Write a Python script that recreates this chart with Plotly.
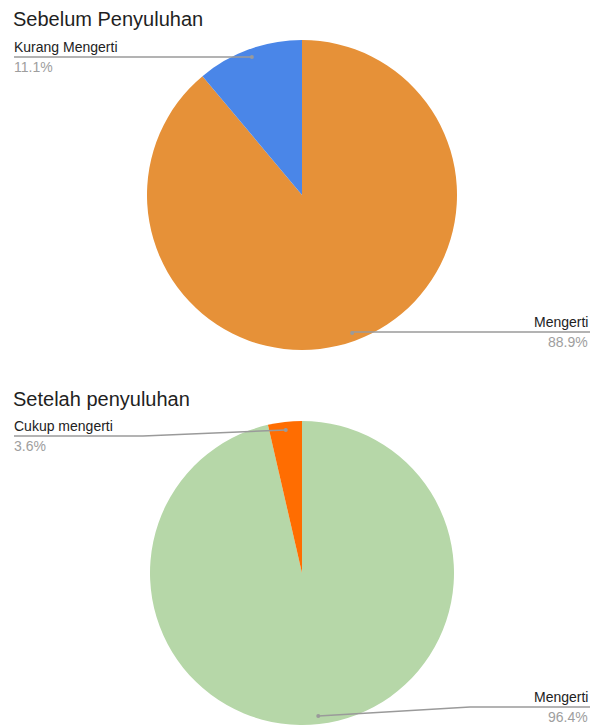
import math
import plotly.graph_objects as go

W, H = 590, 725

# ---------------- data ----------------
title_top = "Sebelum Penyuluhan"
labels_top = ["Mengerti", "Kurang Mengerti"]
values_top = [88.9, 11.1]
colors_top = ["#e69138", "#4a86e8"]

title_bot = "Setelah penyuluhan"
labels_bot = ["Mengerti", "Cukup mengerti"]
values_bot = [96.4, 3.6]
colors_bot = ["#b6d7a8", "#ff6d01"]

# ---------------- layout (pixel geometry) ----------------
FONT = "Liberation Sans, Arial, Helvetica, sans-serif"
LINE_COLOR = "#9a9a9a"
PCT_COLOR = "#9e9e9e"
TEXT_COLOR = "#222222"

charts = [
    dict(title=title_top, labels=labels_top, values=values_top, colors=colors_top,
         cx=302, cy=195, r=155, title_top=6,
         # per slice: side, label line y, elbow x (None -> dot x)
         label_pos=[("right", 332, None), ("left", 57, None)]),
    dict(title=title_bot, labels=labels_bot, values=values_bot, colors=colors_bot,
         cx=302, cy=573, r=152, title_top=386,
         label_pos=[("right", 707, 470), ("left", 436, 143)]),
]


def px(x):
    return x / W


def py(y):
    return 1 - y / H


fig = go.Figure()
shapes = []
annotations = []

for ch in charts:
    cx, cy, r = ch["cx"], ch["cy"], ch["r"]
    fig.add_trace(go.Pie(
        labels=ch["labels"], values=ch["values"],
        marker=dict(colors=ch["colors"], line=dict(width=0)),
        sort=False, direction="clockwise", rotation=0,
        textinfo="none", hoverinfo="label+percent", showlegend=False,
        domain=dict(x=[px(cx - r), px(cx + r)], y=[py(cy + r), py(cy - r)]),
    ))
    annotations.append(dict(
        text=ch["title"], xref="paper", yref="paper", x=px(11), y=py(ch["title_top"]),
        xanchor="left", yanchor="top", showarrow=False,
        font=dict(family=FONT, size=20, color="#1f1f1f"),
    ))
    total = sum(ch["values"])
    start = 0.0
    for lab, val, (side, ly, ex) in zip(ch["labels"], ch["values"], ch["label_pos"]):
        frac = val / total
        mid = math.radians((start + frac / 2) * 360)
        start += frac
        dx = cx + 0.947 * r * math.sin(mid)
        dy = cy - 0.947 * r * math.cos(mid)
        elbow_x = dx if ex is None else ex
        end_x = 14 if side == "left" else W
        path = "M {} {} L {} {} L {} {}".format(
            px(dx), py(dy), px(elbow_x), py(ly), px(end_x), py(ly))
        shapes.append(dict(type="path", path=path, xref="paper", yref="paper",
                           line=dict(color=LINE_COLOR, width=1.4), layer="above"))
        rr = 2.0
        shapes.append(dict(type="circle", xref="paper", yref="paper",
                           x0=px(dx - rr), x1=px(dx + rr), y0=py(dy + rr), y1=py(dy - rr),
                           fillcolor=LINE_COLOR, line=dict(width=0), layer="above"))
        ax = px(12) if side == "left" else px(W)
        xa = "left" if side == "left" else "right"
        annotations.append(dict(
            text=lab, xref="paper", yref="paper", x=ax, y=py(ly),
            xanchor=xa, yanchor="bottom", showarrow=False,
            font=dict(family=FONT, size=14, color=TEXT_COLOR),
        ))
        annotations.append(dict(
            text="{:.1f}%".format(frac * 100), xref="paper", yref="paper", x=ax, y=py(ly),
            xanchor=xa, yanchor="top", showarrow=False,
            font=dict(family=FONT, size=14, color=PCT_COLOR),
        ))

fig.update_layout(
    width=W, height=H,
    margin=dict(l=0, r=0, t=0, b=0),
    paper_bgcolor="white", plot_bgcolor="white",
    shapes=shapes, annotations=annotations,
    showlegend=False,
)

fig.write_html(
    "out.html",
    config={"displayModeBar": False},
    post_script="document.body.style.margin='0';document.body.style.overflow='hidden';",
)
